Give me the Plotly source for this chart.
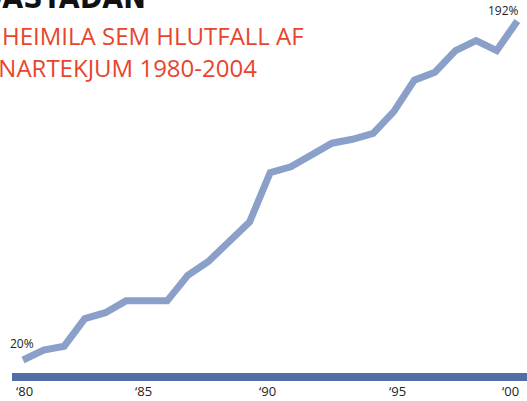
import plotly.graph_objects as go

years = list(range(1980, 2005))
debt_ratio = [20, 25, 27, 41, 44, 50, 50, 50, 63, 70, 80, 90, 115, 118, 124,
              130, 132, 135, 146, 162, 166, 177, 182, 177, 192]
tick_labels = ["\u201880", "\u201885", "\u201890", "\u201895", "\u201800"]
tick_pos = [1980.05, 1985.83, 1991.89, 1998.2, 2003.69]

title_text = "SKULDASTAÐAN"
subtitle_lines = ["SKULDIR HEIMILA SEM HLUTFALL AF", "RÁÐSTÖFUNARTEKJUM 1980-2004"]

FONT = "Open Sans"
fig = go.Figure()
fig.add_trace(go.Scatter(
    x=years, y=debt_ratio, mode="lines",
    line=dict(color="#8aa0c8", width=7),
    hoverinfo="skip", showlegend=False,
))

fig.update_layout(
    width=527, height=401,
    margin=dict(l=0, r=0, t=0, b=0),
    paper_bgcolor="white", plot_bgcolor="white",
    xaxis=dict(range=[1980 - 1.117, 1980 + 24.47], visible=False),
    yaxis=dict(range=[-0.8, 202.65], visible=False),
    showlegend=False,
)

# baseline bar
fig.add_shape(type="rect", xref="paper", yref="paper",
              x0=12 / 527, x1=1.0, y0=20 / 401, y1=28 / 401,
              fillcolor="#4f6fa6", line=dict(width=0), layer="below")

anns = []
for lab, pos in zip(tick_labels, tick_pos):
    anns.append(dict(x=pos, y=10 / 401, xref="x", yref="paper", text=lab,
                     showarrow=False, xanchor="center", yanchor="middle",
                     font=dict(family=FONT, size=13, color="#222222")))

anns.append(dict(x=years[0], y=debt_ratio[0], xref="x", yref="y",
                 text=f"{debt_ratio[0]}%", showarrow=False,
                 xanchor="center", yanchor="middle", xshift=-1, yshift=17,
                 font=dict(family=FONT, size=12, color="#222222")))
anns.append(dict(x=years[-1], y=debt_ratio[-1], xref="x", yref="y",
                 text=f"{debt_ratio[-1]}%", showarrow=False,
                 xanchor="right", yanchor="middle", xshift=4, yshift=10,
                 font=dict(family=FONT, size=12, color="#222222")))

anns.append(dict(x=148 / 527, y=1 - 17 / 401, xref="paper", yref="paper",
                 text=f"<b>{title_text}</b>", showarrow=False,
                 xanchor="right", yanchor="bottom",
                 font=dict(family="DejaVu Sans Condensed, DejaVu Sans", size=30, color="#111111")))
anns.append(dict(x=306 / 527, y=1 - 35 / 401, xref="paper", yref="paper",
                 text=subtitle_lines[0], showarrow=False,
                 xanchor="right", yanchor="middle",
                 font=dict(family=FONT, size=24, weight=500, color="#e8452c")))
anns.append(dict(x=259 / 527, y=1 - 67 / 401, xref="paper", yref="paper",
                 text=subtitle_lines[1], showarrow=False,
                 xanchor="right", yanchor="middle",
                 font=dict(family=FONT, size=24, weight=500, color="#e8452c")))

fig.update_layout(annotations=anns)
fig.write_html("out.html", config={"displayModeBar": False},
               post_script="document.body.style.margin='0';document.body.style.padding='0';")
